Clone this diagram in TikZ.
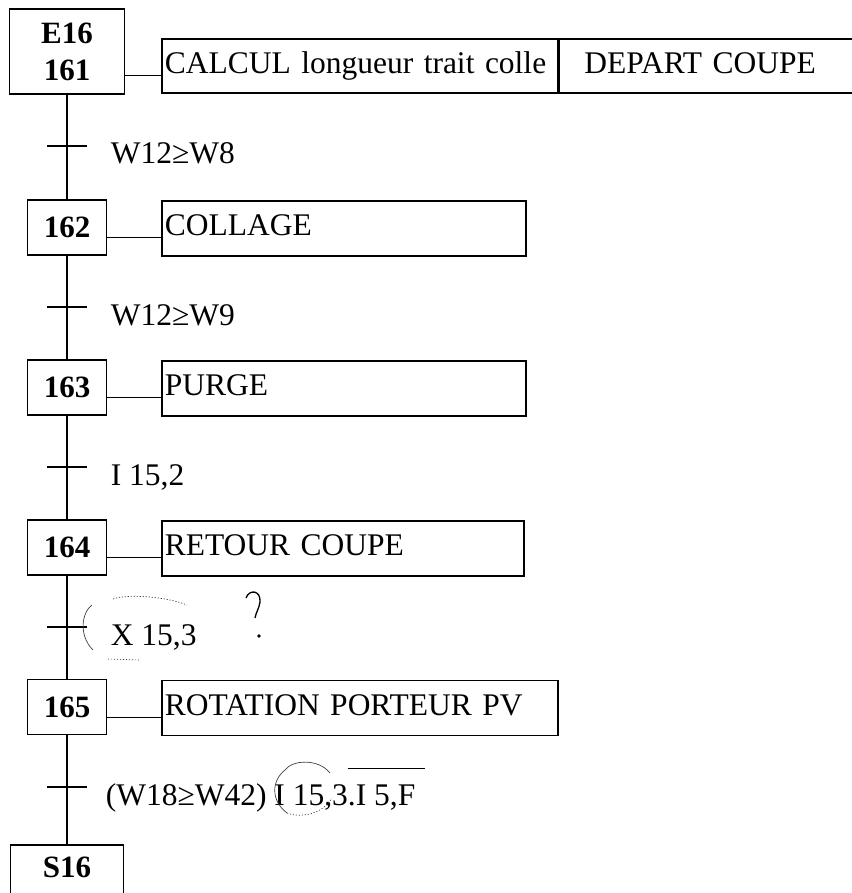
\documentclass[tikz,border=0pt]{standalone}
\usepackage{fontspec}
\setmainfont{Liberation Serif}
\usetikzlibrary{positioning,calc}

\begin{document}
\begin{tikzpicture}[x=1pt,y=-1pt,line width=1.6pt,font=\fontsize{31.5}{36}\selectfont,
  etape/.style={draw,minimum width=79pt,minimum height=55pt,inner sep=0pt,font=\fontsize{31}{37}\selectfont\bfseries},
  act/.style={draw,anchor=north west,minimum height=55pt,inner xsep=3pt,inner ysep=0pt,align=left,text height=22pt,text depth=7pt},
  cond/.style={anchor=base west,inner sep=0pt},
  lien/.style={line width=1.3pt},
  crayon/.style={black!75,line width=0.7pt}, pointille/.style={crayon,dash pattern=on 1.2pt off 1.8pt}]
 \useasboundingbox (0,0) rectangle (851,893);
 % etapes et actions
 \node[etape,minimum width=115pt,minimum height=85pt,align=center] (e161) at (67,51.5) {E16\\161};
 \node[act,minimum height=54pt,text width=390pt] (a161) at (161,38) {CALCUL longueur trait colle};
 \node[act,minimum height=54pt,text width=290pt,inner xsep=25pt] (a161b) at (a161.north east) {DEPART COUPE};
 \node[etape] (s162) at (67,227.5) {162};
 \node[act,text width=358pt] (a162) at (161,200) {COLLAGE};
 \node[etape] (s163) at (67,387.5) {163};
 \node[act,text width=358pt] (a163) at (161,360) {PURGE};
 \node[etape] (s164) at (67,547.5) {164};
 \node[act,text width=356pt] (a164) at (161,520) {RETOUR COUPE};
 \node[etape] (s165) at (67,707) {165};
 \node[act,text width=390pt] (a165) at (161,679.5) {ROTATION PORTEUR PV};
 \node[etape,minimum width=113pt,anchor=north,inner ysep=3pt,text height=30pt,text depth=40pt] (s16) at (67,844) {S16};
 % transitions
 \coordinate (t1) at (67,146); \coordinate (t2) at (67,307); \coordinate (t3) at (67,467);
 \coordinate (t4) at (67,627); \coordinate (t5) at (67,787);
 \node[cond] (c1) at ($(t1)+(43,18)$) {W12≥W8};
 \node[cond] (c2) at ($(t2)+(43,18)$) {W12≥W9};
 \node[cond] (c3) at ($(t3)+(43,18)$) {I 15,2};
 \node[cond] (c4) at ($(t4)+(43,18)$) {X 15,3};
 \node[cond] (c5) at ($(t5)+(38,18)$) {(W18≥W42) I 15,3\rlap{\raisebox{36pt}{\rule{77pt}{1.4pt}}}.I 5,F};
 \draw (e161) -- (s162); \draw (s162) -- (s163); \draw (s163) -- (s164); \draw (s164) -- (s165); \draw (s165) -- (s16);
 \draw ([xshift=-20pt]t1) -- ([xshift=20pt]t1); \draw ([xshift=-20pt]t2) -- ([xshift=20pt]t2);
 \draw ([xshift=-20pt]t3) -- ([xshift=20pt]t3); \draw ([xshift=-20pt]t4) -- ([xshift=20pt]t4);
 \draw ([xshift=-20pt]t5) -- ([xshift=20pt]t5);
 \draw[lien] ([yshift=-10pt]a161.west) -- ([yshift=-10pt]a161.west -| e161.east);
 \draw[lien] ([yshift=-9.5pt]a162.west) -- ([yshift=-9.5pt]a162.west -| s162.east);
 \draw[lien] ([yshift=-9pt]a163.west) -- ([yshift=-9pt]a163.west -| s163.east);
 \draw[lien] ([yshift=-9.5pt]a164.west) -- ([yshift=-9.5pt]a164.west -| s164.east);
 \draw[lien] ([yshift=-9.5pt]a165.west) -- ([yshift=-9.5pt]a165.west -| s165.east);
 % traits au crayon
 \draw[crayon] (92,605) .. controls (82,612) and (78,635) .. (93,650);
 \draw[pointille] (113,599) .. controls (125,594) and (165,596) .. (187,605);
 \draw[pointille] (108,659) -- (140,660);
 \draw[line width=1.3pt] (246,598) .. controls (249,589) and (261,590) .. (260,602) .. controls (259,609) and (256,612) .. (255,618);
 \fill (259,636) circle (1.8pt);
 \draw[crayon] (285,770) .. controls (292,760) and (318,758) .. (330,773);
 \draw[crayon] (285,770) .. controls (272,780) and (270,800) .. (287,813);
 \draw[pointille] (287,813) .. controls (300,818) and (322,815) .. (332,798);
\end{tikzpicture}
\end{document}
